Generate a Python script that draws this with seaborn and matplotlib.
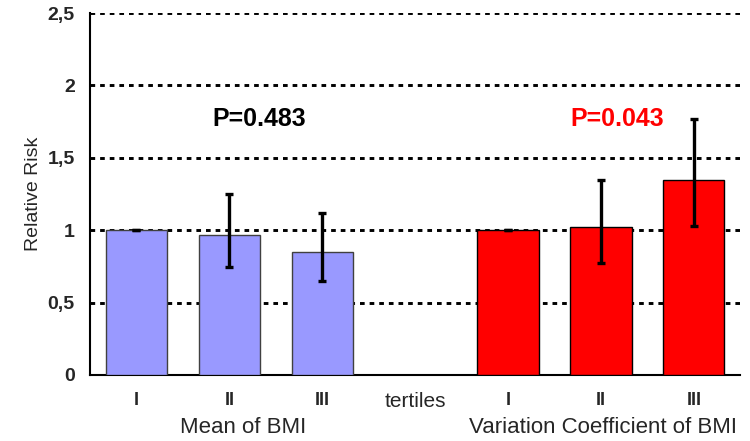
import matplotlib
matplotlib.use("Agg")
import matplotlib.pyplot as plt
import seaborn as sns
import pandas as pd
import numpy as np

# data
keys = ["m1", "m2", "m3", "t", "v1", "v2", "v3"]
tick_labels = ["I", "II", "III", "tertiles", "I", "II", "III"]
values = [1.00, 0.97, 0.85, np.nan, 1.00, 1.02, 1.35]
err_low = [1.00, 0.745, 0.65, np.nan, 1.00, 0.77, 1.03]
err_high = [1.00, 1.25, 1.12, np.nan, 1.00, 1.345, 1.765]
bar_colors = ["#9999FF", "#9999FF", "#9999FF", "#FFFFFF", "#FF0000", "#FF0000", "#FF0000"]
group_labels = ["Mean of BMI", "Variation Coefficient of BMI"]
p_texts = ["P=0.483", "P=0.043"]
p_colors = ["#000000", "#FF0000"]
y_ticks = [0, 0.5, 1, 1.5, 2, 2.5]
y_ticklabels = ["0", "0,5", "1", "1,5", "2", "2,5"]

sns.set_style("white")
plt.rcParams["font.family"] = ["Liberation Sans", "DejaVu Sans"]

df = pd.DataFrame({"key": keys, "value": values})

fig = plt.figure(figsize=(7.5, 4.41), dpi=100)
ax = fig.add_axes([0.12, 0.1497, 0.867, 0.8208])

sns.barplot(data=df, x="key", y="value", order=keys, hue="key",
            palette=dict(zip(keys, bar_colors)), legend=False, width=0.66,
            saturation=1, ax=ax, linewidth=1, edgecolor="black", zorder=3)
for patch in ax.patches:
    fc = patch.get_facecolor()
    if fc[2] > 0.9 and fc[0] < 0.7:
        patch.set_edgecolor("#404040")

pos = np.arange(len(keys))
vals = np.array(values)
lo = vals - np.array(err_low)
hi = np.array(err_high) - vals
ax.errorbar(pos, vals, yerr=[lo, hi], fmt="none", ecolor="black",
            elinewidth=2.4, capsize=3, capthick=2.4, zorder=4)

ax.set_xlim(-0.5, len(keys) - 0.5)
ax.set_ylim(0, 2.5)
ax.set_yticks(y_ticks)
ax.set_yticklabels(y_ticklabels, fontweight="bold", fontsize=14)
for y in y_ticks[1:]:
    ax.axhline(y, color="black", linestyle=(0, (1.6, 1.7)), linewidth=2.1, zorder=2)

ax.set_xticks(pos)
ax.set_xticklabels(tick_labels, fontsize=15)
for lbl, t in zip(ax.get_xticklabels(), tick_labels):
    if t != "tertiles":
        lbl.set_fontweight("bold")
        lbl.set_fontsize(13)
ax.set_xticks(np.arange(-0.5, len(keys)), minor=True)
ax.tick_params(axis="x", which="major", length=0, pad=12)
ax.tick_params(axis="x", which="minor", length=5, width=1.2, direction="out", color="black")
ax.tick_params(axis="y", length=5, width=1.2, direction="out", color="black", pad=6)
ax.set_xlabel("")
ax.set_ylabel("Relative Risk", fontsize=14, labelpad=4)

for s in ["top", "right"]:
    ax.spines[s].set_visible(False)
for s in ["left", "bottom"]:
    ax.spines[s].set_color("black")
    ax.spines[s].set_linewidth(1.5)

ax.text(1.15, -0.145, group_labels[0], transform=ax.get_xaxis_transform(),
        ha="center", va="center", fontsize=16)
ax.text(5.02, -0.145, group_labels[1], transform=ax.get_xaxis_transform(),
        ha="center", va="center", fontsize=16)

ax.text(1.32, 1.77, p_texts[0], color=p_colors[0], fontsize=18, fontweight="bold",
        ha="center", va="center")
ax.text(5.17, 1.77, p_texts[1], color=p_colors[1], fontsize=18, fontweight="bold",
        ha="center", va="center")

fig.savefig("out.png", dpi=100)
